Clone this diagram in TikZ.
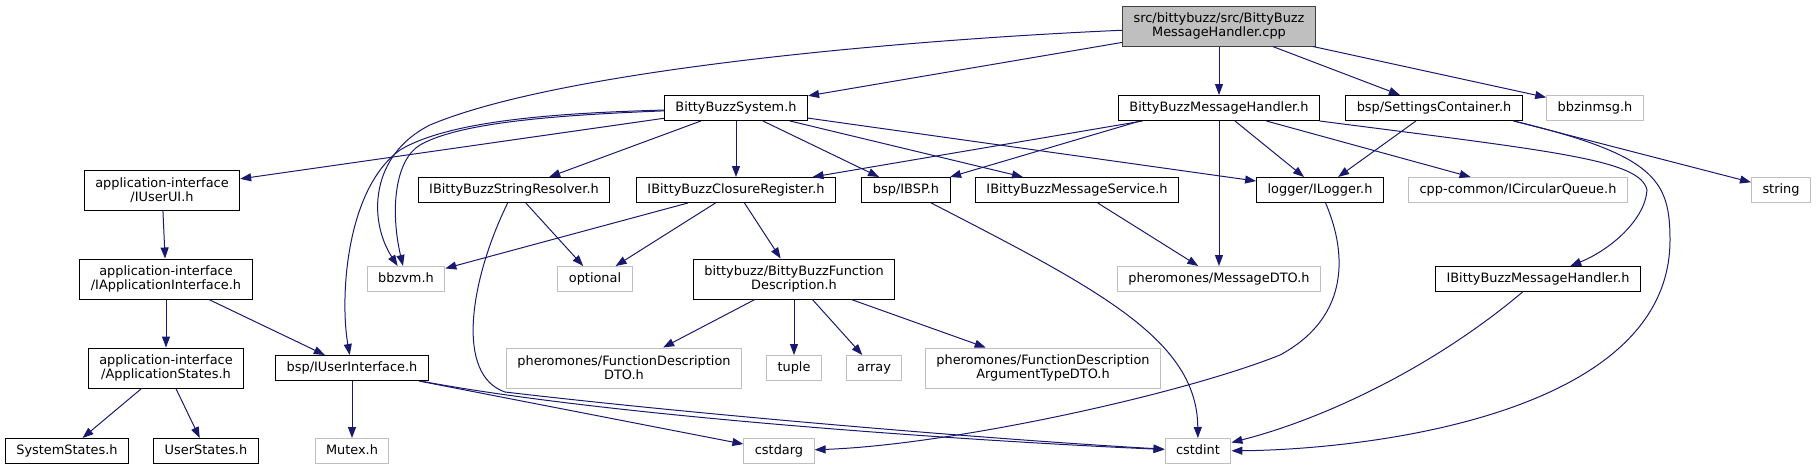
\documentclass[tikz,border=0pt]{standalone}
\usepackage{fontspec}
\newfontfamily\dvsans{DejaVu Sans}
\usetikzlibrary{arrows.meta}
\definecolor{edgeblue}{HTML}{191970}
\definecolor{sysgray}{HTML}{BFBFBF}
\definecolor{rootline}{HTML}{404040}
\tikzset{
  hdr/.style={draw=black, line width=1pt, align=center, inner xsep=11pt, inner ysep=2pt,
    font={\dvsans\fontsize{12.9}{14.3}\selectfont}},
  oneline/.style={minimum height=25pt, text height=9.5pt, text depth=3pt},
  twoline/.style={minimum height=40pt},
  sys/.style={draw=sysgray},
  dep/.style={edgeblue, line width=1pt, -{Triangle[length=11pt,width=8pt]}}
}
\begin{document}
\begin{tikzpicture}[x=1pt,y=-1pt]
\useasboundingbox (0,0) rectangle (1817,469);
% first row
\node[hdr,twoline,fill=sysgray,draw=rootline] (cpp) at (1219,26) {src/bittybuzz/src/BittyBuzz\\MessageHandler.cpp};
\node[hdr,oneline] (bbs) at (736,108) {BittyBuzzSystem.h};
\node[hdr,oneline] (mh) at (1219,108) {BittyBuzzMessageHandler.h};
\node[hdr,oneline] (sc) at (1434,108) {bsp/SettingsContainer.h};
\node[hdr,oneline,sys] (bbzinmsg) at (1595,108) {bbzinmsg.h};
% second row
\node[hdr,twoline] (iuserui) at (162,190) {application-interface\\/IUserUI.h};
\node[hdr,oneline] (sresolver) at (514,190) {IBittyBuzzStringResolver.h};
\node[hdr,oneline] (closure) at (736,190) {IBittyBuzzClosureRegister.h};
\node[hdr,oneline] (ibsp) at (906,190) {bsp/IBSP.h};
\node[hdr,oneline] (msgservice) at (1077,190) {IBittyBuzzMessageService.h};
\node[hdr,oneline] (ilogger) at (1320,190) {logger/ILogger.h};
\node[hdr,oneline,sys] (cqueue) at (1518,190) {cpp-common/ICircularQueue.h};
\node[hdr,oneline,sys] (string) at (1781,190) {string};
% third row
\node[hdr,twoline] (iappint) at (166,279) {application-interface\\/IApplicationInterface.h};
\node[hdr,oneline,sys] (bbzvm) at (406,279) {bbzvm.h};
\node[hdr,oneline,sys] (optional) at (595,279) {optional};
\node[hdr,twoline] (funcdesc) at (794,279) {bittybuzz/BittyBuzzFunction\\Description.h};
\node[hdr,oneline,sys] (msgdto) at (1219,279) {pheromones/MessageDTO.h};
\node[hdr,oneline] (imh) at (1538,279) {IBittyBuzzMessageHandler.h};
% fourth row
\node[hdr,twoline] (appstates) at (166,368) {application-interface\\/ApplicationStates.h};
\node[hdr,oneline] (iuserint) at (352,368) {bsp/IUserInterface.h};
\node[hdr,twoline,sys] (fddto) at (624,368) {pheromones/FunctionDescription\\DTO.h};
\node[hdr,oneline,sys] (tuple) at (794,368) {tuple};
\node[hdr,oneline,sys] (array) at (874,368) {array};
\node[hdr,twoline,sys] (argdto) at (1043,368) {pheromones/FunctionDescription\\ArgumentTypeDTO.h};
% last row
\node[hdr,oneline] (systemstates) at (67,451) {SystemStates.h};
\node[hdr,oneline] (userstates) at (206,451) {UserStates.h};
\node[hdr,oneline,sys] (mutex) at (352,451) {Mutex.h};
\node[hdr,oneline,sys] (cstdarg) at (779,451) {cstdarg};
\node[hdr,oneline,sys] (cstdint) at (1198,451) {cstdint};

% straight includes
\foreach \a/\b in {cpp/bbs, cpp/mh, cpp/sc, cpp/bbzinmsg,
  bbs/iuserui, bbs/sresolver, bbs/closure, bbs/ibsp, bbs/msgservice, bbs/ilogger,
  mh/closure, mh/ilogger, mh/cqueue, mh/msgdto,
  sc/ilogger, msgservice/msgdto, sresolver/optional,
  closure/bbzvm, closure/optional, closure/funcdesc,
  funcdesc/fddto, funcdesc/tuple, funcdesc/array, funcdesc/argdto,
  iuserui/iappint, iappint/appstates, iappint/iuserint,
  appstates/systemstates, appstates/userstates, iuserint/mutex, iuserint/cstdarg} {
  \draw[dep] (\a) -- (\b);
}
\draw[dep] ([xshift=-79pt]mh.south) -- (ibsp);
\draw[dep] ([xshift=-9pt]sc.south east) -- (string);

% curved includes
\draw[dep] (cpp) .. controls (900,40) and (560,70) .. (430,125) .. controls (370,155) and (368,220) .. (bbzvm);
\draw[dep] (bbs) .. controls (560,115) and (460,122) .. (420,145) .. controls (395,160) and (390,210) .. (bbzvm);
\draw[dep] (bbs) .. controls (560,113) and (450,120) .. (400,150) .. controls (345,190) and (340,300) .. (iuserint);
\draw[dep] (mh) .. controls (1560,152) and (1640,160) .. (1647,190) .. controls (1645,220) and (1610,250) .. (imh);
\draw[dep] ([xshift=-9pt]sc.south east) .. controls (1655,155) and (1670,180) .. (1670,240) .. controls (1670,420) and (1350,450) .. (cstdint);
\draw[dep] (imh) .. controls (1430,370) and (1320,420) .. (cstdint);
\draw[dep] (ilogger) .. controls (1350,260) and (1345,320) .. (1280,355) .. controls (1180,395) and (950,445) .. (cstdarg);
\draw[dep] (ibsp) .. controls (1100,290) and (1197,340) .. (cstdint);
\draw[dep] (sresolver) .. controls (470,280) and (455,375) .. (505,392) .. controls (700,415) and (1000,440) .. (cstdint);
\draw[dep] (iuserint) .. controls (600,415) and (950,440) .. (cstdint);
\end{tikzpicture}
\end{document}
